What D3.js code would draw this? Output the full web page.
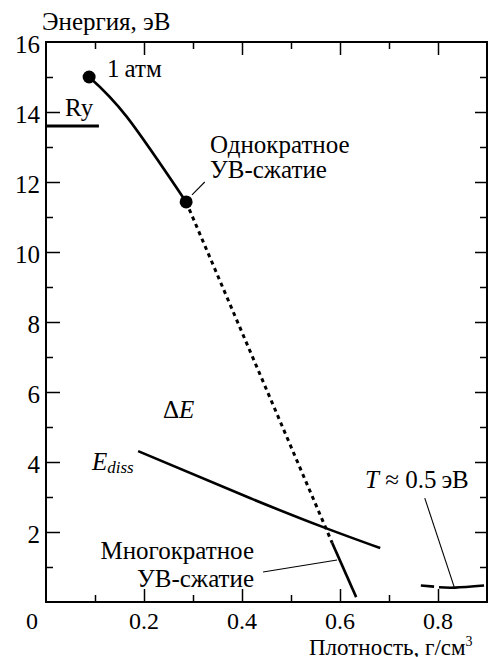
<!DOCTYPE html>
<html><head><meta charset="utf-8">
<script src="https://cdn.jsdelivr.net/npm/d3@7/dist/d3.min.js"></script>
</head>
<body style="margin:0">
<svg id="chart" width="497" height="657"></svg>
<script>
// ---- data ----
const xMajorTicks = [0.2, 0.4, 0.6, 0.8];
const xMinorTicks = [0.1, 0.3, 0.5, 0.7];
const yMajorTicks = [2, 4, 6, 8, 10, 12, 14, 16];
const yMinorTicks = [1, 3, 5, 7, 9, 11, 13, 15];
const singleShock = [[0.088, 15.0], [0.165, 13.86], [0.286, 11.43]];
const extrapolation = [[0.286, 11.43], [0.584, 1.69]];
const multiShock = [[0.584, 1.69], [0.633, 0.14]];
const eDiss = [[0.188, 4.31], [0.416, 2.97], [0.571, 2.11], [0.682, 1.54]];
const tempSeg1 = [[0.765, 0.47], [0.792, 0.44]];
const tempSeg2 = [[0.802, 0.42], [0.835, 0.41], [0.894, 0.47]];
const ryLevel = [[0, 13.6], [0.108, 13.6]];
const markers = [[0.088, 15.0], [0.286, 11.43]];

const FS = 25, FONT = "\"Liberation Serif\"";
const svg = d3.select("#chart").attr("font-family", FONT);
const x = d3.scaleLinear().domain([0, 0.9]).range([46, 487]);
const y = d3.scaleLinear().domain([0, 16]).range([602, 42]);

// frame
svg.append("rect").attr("x", x(0)).attr("y", y(16))
  .attr("width", x(0.9) - x(0)).attr("height", y(0) - y(16))
  .attr("fill", "none").attr("stroke", "#000").attr("stroke-width", 2);

function tickAxis(axisFn, scale, vals, size, tr) {
  const g = svg.append("g").attr("transform", tr)
    .call(axisFn(scale).tickValues(vals).tickSize(size).tickSizeOuter(0).tickFormat(""));
  g.select(".domain").remove();
  g.selectAll("text").remove();
  g.attr("font-family", null).attr("font-size", null).attr("text-anchor", null);
  g.selectAll(".tick line").attr("stroke", "#000").attr("stroke-width", 1.5);
  return g;
}
tickAxis(d3.axisBottom, x, xMajorTicks, -13, `translate(0,${y(0)})`);
tickAxis(d3.axisBottom, x, xMinorTicks, -7, `translate(0,${y(0)})`);
tickAxis(d3.axisTop, x, xMajorTicks, -13, `translate(0,${y(16)})`);
tickAxis(d3.axisTop, x, xMinorTicks, -7, `translate(0,${y(16)})`);
tickAxis(d3.axisLeft, y, yMajorTicks.filter(v => v < 16), -14, `translate(${x(0)},0)`);
tickAxis(d3.axisLeft, y, yMinorTicks, -7, `translate(${x(0)},0)`);
tickAxis(d3.axisRight, y, yMajorTicks.filter(v => v < 16), -12, `translate(${x(0.9)},0)`);
tickAxis(d3.axisRight, y, yMinorTicks, -7, `translate(${x(0.9)},0)`);

function txt(sel, fs) {
  return sel.attr("font-family", FONT).attr("font-size", fs || FS);
}

// tick labels
txt(svg.selectAll("text.ylab").data(yMajorTicks).join("text").attr("class", "ylab")
  .attr("x", 40).attr("y", d => y(d) + 11).attr("text-anchor", "end")).text(d => d);
txt(svg.selectAll("text.xlab").data(xMajorTicks).join("text").attr("class", "xlab")
  .attr("x", d => x(d)).attr("y", 629).attr("text-anchor", "middle"), 24).text(d => d3.format(".1f")(d));
txt(svg.append("text").attr("x", 32).attr("y", 629).attr("text-anchor", "middle"), 24).text("0");

// axis titles
txt(svg.append("text").attr("x", 42).attr("y", 30)).text("Энергия, эВ");
const xt = txt(svg.append("text").attr("x", 309).attr("y", 655), 23);
xt.append("tspan").text("Плотность, г/см");
xt.append("tspan").attr("dy", -9).attr("font-size", 14).text("3");

// lines
const line = d3.line().x(d => x(d[0])).y(d => y(d[1]));
const smooth = d3.line().x(d => x(d[0])).y(d => y(d[1])).curve(d3.curveNatural);
const g = svg.append("g").attr("fill", "none").attr("stroke", "#000");
g.append("path").attr("d", line(ryLevel)).attr("stroke-width", 3);
g.append("path").attr("d", smooth(singleShock)).attr("stroke-width", 2.6);
g.append("path").attr("d", line(extrapolation)).attr("stroke-width", 3).attr("stroke-dasharray", "4,4");
g.append("path").attr("d", line(multiShock)).attr("stroke-width", 2.6);
g.append("path").attr("d", smooth(eDiss)).attr("stroke-width", 2.6);
g.append("path").attr("d", line(tempSeg1)).attr("stroke-width", 2.6);
g.append("path").attr("d", smooth(tempSeg2)).attr("stroke-width", 2.6);

svg.selectAll("circle.mk").data(markers).join("circle").attr("class", "mk")
  .attr("cx", d => x(d[0])).attr("cy", d => y(d[1])).attr("r", 6.5).attr("fill", "#000");

// leader lines
const leaders = [
  [[0.324, 12.0], [0.298, 11.63]],
  [[0.443, 0.857], [0.594, 1.2]],
  [[0.773, 2.97], [0.833, 0.43]]
];
svg.selectAll("path.ld").data(leaders).join("path").attr("class", "ld")
  .attr("d", d => line(d)).attr("fill", "none").attr("stroke", "#000").attr("stroke-width", 1.1);

// annotations
txt(svg.append("text").attr("x", 65).attr("y", 116)).text("Ry");
txt(svg.append("text").attr("x", 107).attr("y", 77)).text("1\u2009атм");
txt(svg.append("text").attr("x", 210).attr("y", 153)).text("Однократное");
txt(svg.append("text").attr("x", 210).attr("y", 178)).text("УВ-сжатие");
txt(svg.append("text").attr("x", 254).attr("y", 559).attr("text-anchor", "end")).text("Многократное");
txt(svg.append("text").attr("x", 254).attr("y", 587).attr("text-anchor", "end")).text("УВ-сжатие");
const de = txt(svg.append("text").attr("x", 163).attr("y", 418));
de.append("tspan").text("Δ");
de.append("tspan").attr("font-style", "italic").text("E");
const ed = txt(svg.append("text").attr("x", 92).attr("y", 470));
ed.append("tspan").attr("font-style", "italic").text("E");
ed.append("tspan").attr("font-style", "italic").attr("font-size", 17).attr("dy", 3).text("diss");
const tt = txt(svg.append("text").attr("x", 365).attr("y", 488));
tt.append("tspan").attr("font-style", "italic").text("T");
tt.append("tspan").text(" ≈ 0.5\u2009эВ");
</script>
</body></html>
